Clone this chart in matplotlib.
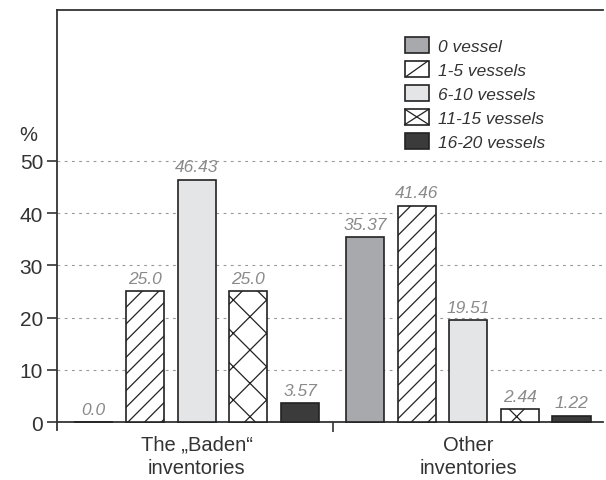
import matplotlib
matplotlib.use("Agg")
import matplotlib.pyplot as plt
from matplotlib.patches import Patch, Rectangle
from matplotlib.lines import Line2D
from matplotlib.legend_handler import HandlerBase
import numpy as np

plt.rcParams['font.family'] = ['Liberation Sans', 'DejaVu Sans']
plt.rcParams['hatch.linewidth'] = 0.9

groups = ["The \u201eBaden\u201c\ninventories", "Other\ninventories"]
series = ["0 vessel", "1-5 vessels", "6-10 vessels", "11-15 vessels", "16-20 vessels"]
baden = [0.0, 25.0, 46.43, 25.0, 3.57]
other = [35.37, 41.46, 19.51, 2.44, 1.22]
labels_baden = ["0.0", "25.0", "46.43", "25.0", "3.57"]
labels_other = ["35.37", "41.46", "19.51", "2.44", "1.22"]
yticks = [0, 10, 20, 30, 40, 50]

colors = ["#a8a9ac", "white", "#e4e5e7", "white", "#3b3b3b"]
hatches = [None, "//", None, "x", None]


class BoxHandler(HandlerBase):
    def create_artists(self, legend, orig_handle, xdescent, ydescent, width, height,
                       fontsize, trans):
        x0, y0 = -xdescent, -ydescent
        arts = [Rectangle((x0, y0), width, height, facecolor=orig_handle.get_facecolor(),
                          edgecolor="#222222", linewidth=1.2, transform=trans)]
        h = orig_handle.get_hatch()
        if h and "/" in h:
            arts.append(Line2D([x0 + 0.05 * width, x0 + 0.95 * width], [y0, y0 + height],
                               color="#222222", lw=0.9, transform=trans))
        if h and "x" in h:
            arts.append(Line2D([x0, x0 + width], [y0, y0 + height], color="#222222",
                               lw=0.9, transform=trans))
            arts.append(Line2D([x0, x0 + width], [y0 + height, y0], color="#222222",
                               lw=0.9, transform=trans))
        return arts


fig = plt.figure(figsize=(6.06, 4.81), dpi=100)
ax = fig.add_axes([57/606, 50/481, 546/606, 420/481])

gap = 1.26
x_b = np.arange(5)
x_o = np.arange(5) + 4 + gap
w = 0.74
text_col = "#333333"
val_col = "#8a8a8a"

for i in range(5):
    for x, v, lab in ((x_b[i], baden[i], labels_baden[i]), (x_o[i], other[i], labels_other[i])):
        ax.bar(x, v, width=w, color=colors[i], hatch=hatches[i], edgecolor="#222222",
               linewidth=1.2, zorder=3)
        ax.text(x, v + 1.0, lab, ha="center", va="bottom", fontsize=12.5,
                style="italic", color=val_col, zorder=4)

for y in yticks[1:]:
    ax.axhline(y, color="#999999", lw=0.8, linestyle=(0, (2.5, 4)), zorder=1)

ax.set_xlim(-0.707, 9.87)
ax.set_ylim(-1.53, 78.9)
ax.spines['right'].set_visible(False)
ax.spines['bottom'].set_position(('data', 0))
for s in ('left', 'top', 'bottom'):
    ax.spines[s].set_color("#333333")
    ax.spines[s].set_linewidth(1.3)

ax.set_yticks(yticks)
ax.set_yticklabels([str(t) for t in yticks], fontsize=15, color=text_col)
ax.tick_params(axis='y', length=7, width=1.2, color="#333333", pad=3)
ax.text(-0.707 - 0.56, 53.2, "%", fontsize=14.5, color=text_col, ha="center", va="bottom")

ax.set_xticks([2, 4 + gap + 2])
ax.set_xticklabels(groups, fontsize=14.5, color=text_col, linespacing=1.3)
ax.tick_params(axis='x', which='major', length=0, pad=9)
ax.set_xticks([4 + gap / 2], minor=True)
ax.tick_params(axis='x', which='minor', length=7, width=1.2, color="#333333", direction='out')

handles = [Patch(facecolor=colors[i], hatch=hatches[i], edgecolor="#222222", linewidth=1.2)
           for i in range(5)]
leg = ax.legend(handles, series, loc="upper left", bbox_to_anchor=(0.624, 0.952),
                frameon=False, prop={'size': 12.5, 'style': 'italic'},
                handlelength=1.4, handleheight=1.0, handletextpad=0.5,
                labelspacing=0.42, borderaxespad=0,
                handler_map={Patch: BoxHandler()})
for t in leg.get_texts():
    t.set_color(text_col)

fig.savefig("out.png", dpi=100)
